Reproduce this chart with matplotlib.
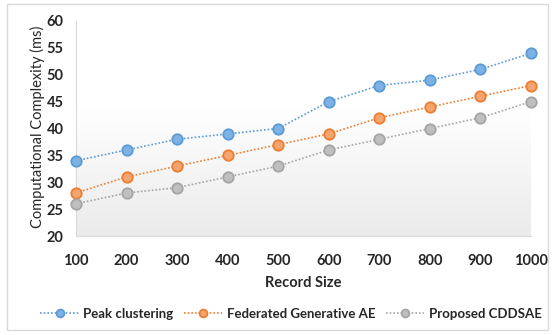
import numpy as np
import matplotlib
matplotlib.use("Agg")
import matplotlib.pyplot as plt
from matplotlib.patches import Rectangle

record_sizes = [100, 200, 300, 400, 500, 600, 700, 800, 900, 1000]
peak_clustering = [34, 36, 38, 39, 40, 45, 48, 49, 51, 54]
federated_ae = [28, 31, 33, 35, 37, 39, 42, 44, 46, 48]
proposed_cddsae = [26, 28, 29, 31, 33, 36, 38, 40, 42, 45]
series_names = ["Peak clustering", "Federated Generative AE", "Proposed CDDSAE"]
yticks = [20, 25, 30, 35, 40, 45, 50, 55, 60]

plt.rcParams['font.family'] = ['Lato', 'DejaVu Sans']

W, H = 554, 335
fig = plt.figure(figsize=(W / 100, H / 100), dpi=100)
# outer border
fig.patches.append(Rectangle((7 / W, 1 - 330 / H), 541 / W, 326 / H, transform=fig.transFigure,
                             fill=False, edgecolor='#d9d9d9', linewidth=1))

x0, x1 = 76, 531
y0, y1 = 21, 236
ax = fig.add_axes([x0 / W, 1 - y1 / H, (x1 - x0) / W, (y1 - y0) / H])
ax.set_facecolor('none')

# gradient background (white top, light gray toward bottom)
t = np.linspace(0, 1, 256)
g = np.clip((t - 0.4) / 0.6, 0, 1)
top = np.array([1.0, 1.0, 1.0])
bot = np.array([0.92, 0.92, 0.92])
img = top[None, :] + (bot - top)[None, :] * g[:, None]
img = img[:, None, :]
ax.imshow(img, extent=[0, 1, 0, 1], transform=ax.transAxes, aspect='auto', zorder=0)

styles = [
    dict(color='#5b9bd5', mfc='#7eb2e4', mec='#5b9bd5'),
    dict(color='#ed7d31', mfc='#f4a46e', mec='#ed7d31'),
    dict(color='#a5a5a5', mfc='#bfbfbf', mec='#a5a5a5'),
]
for vals, name, st in zip([peak_clustering, federated_ae, proposed_cddsae], series_names, styles):
    ax.plot(record_sizes, vals, linestyle=(0, (1, 1.2)), linewidth=1.2, color=st['color'],
            marker='o', markersize=7.5, markerfacecolor=st['mfc'], markeredgecolor=st['mec'],
            markeredgewidth=1.3, label=name, zorder=3, clip_on=False)

ax.set_xlim(100, 1000)
ax.set_ylim(20, 60)
ax.set_xticks(record_sizes)
ax.set_yticks(yticks)
ax.tick_params(axis='both', length=0, labelsize=10.5, colors='#262626')
ax.tick_params(axis='x', pad=13)
ax.tick_params(axis='y', pad=9)
for lab in ax.get_xticklabels() + ax.get_yticklabels():
    lab.set_fontweight('bold')
for s in ['top', 'right']:
    ax.spines[s].set_visible(False)
ax.spines['left'].set_color('#d9d9d9')
ax.spines['bottom'].set_color('#d9d9d9')

ax.set_xlabel('Record Size', fontsize=10.5, fontweight='bold', color='#262626', labelpad=6)
fig.text(37 / W, 1 - 127 / H, 'Computational Complexity (ms)', rotation=90, fontsize=10.5,
         color='#262626', ha='center', va='center')

handles, labels = ax.get_legend_handles_labels()
leg = fig.legend(handles, labels, loc='center', bbox_to_anchor=(291 / W, 1 - 314 / H), ncol=3,
                 frameon=False, fontsize=9.5, handlelength=2.9, columnspacing=0.8,
                 handletextpad=0.35, markerscale=0.75)
for t in leg.get_texts():
    t.set_fontweight('bold')
    t.set_color('#262626')

fig.savefig('out.png', dpi=100)
